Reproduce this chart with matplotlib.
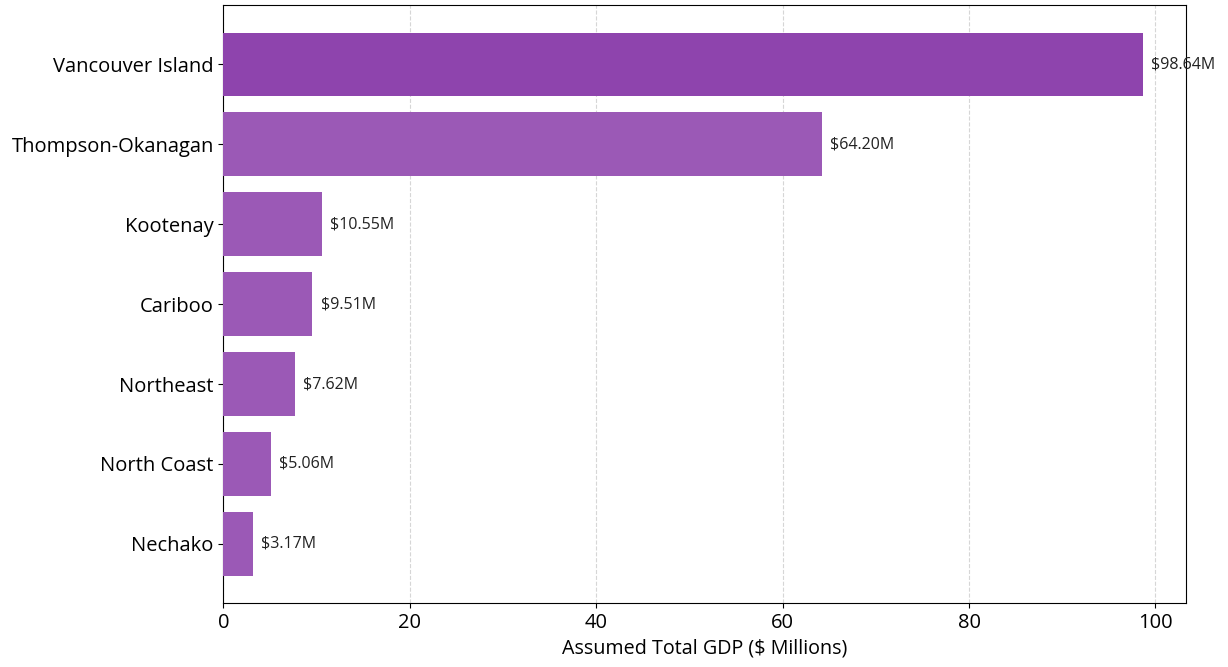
import matplotlib.pyplot as plt

plt.rcParams['font.family'] = ['Open Sans', 'DejaVu Sans']

regions = ["Vancouver Island", "Thompson-Okanagan", "Kootenay", "Cariboo",
           "Northeast", "North Coast", "Nechako"]
gdp = [98.64, 64.20, 10.55, 9.51, 7.62, 5.06, 3.17]
colors = ["#8E44AD"] + ["#9B59B6"] * 6

fig, ax = plt.subplots(figsize=(12.28, 6.67), dpi=100)
bars = ax.barh(regions, gdp, color=colors, height=0.8, zorder=3)
ax.invert_yaxis()

for b, v in zip(bars, gdp):
    ax.text(v + 0.9, b.get_y() + b.get_height() / 2, f"${v:.2f}M",
            va="center", ha="left", fontsize=11.5, color="#222222", zorder=4)

ax.set_xlim(0, 103.3)
ax.set_xlabel("Assumed Total GDP ($ Millions)", fontsize=14.2)
ax.tick_params(axis="both", labelsize=14.5)
ax.grid(axis="x", linestyle="--", color="#cccccc", alpha=0.8, zorder=0)

fig.subplots_adjust(left=0.182, right=0.966, top=0.992, bottom=0.096)
fig.savefig("out.png", dpi=100)
